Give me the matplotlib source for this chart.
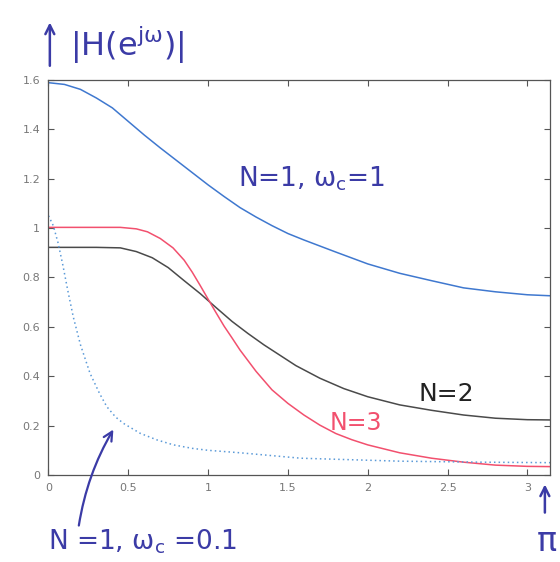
import matplotlib
matplotlib.use('Agg')
from matplotlib import pyplot as plt
from matplotlib.ticker import FuncFormatter

# |H(e^jw)|
w_blue = [0, 0.1, 0.2, 0.3, 0.4, 0.5, 0.6, 0.7, 0.8, 0.9, 1.0, 1.1, 1.2, 1.3, 1.4, 1.5, 1.6,
          1.8, 2.0, 2.2, 2.4, 2.6, 2.8, 3.0, 3.1416]
h_blue = [1.589, 1.582, 1.562, 1.527, 1.487, 1.432, 1.377, 1.325, 1.275, 1.225, 1.175, 1.128,
          1.083, 1.045, 1.01, 0.978, 0.952, 0.903, 0.855, 0.817, 0.787, 0.758, 0.742, 0.73, 0.726]

w_n2 = [0, 0.3, 0.45, 0.55, 0.65, 0.75, 0.85, 0.95, 1.05, 1.15, 1.25, 1.35, 1.45, 1.55, 1.7,
        1.85, 2.0, 2.2, 2.4, 2.6, 2.8, 3.0, 3.1416]
h_n2 = [0.922, 0.922, 0.92, 0.905, 0.88, 0.84, 0.787, 0.735, 0.678, 0.622, 0.573, 0.527, 0.485,
        0.443, 0.392, 0.35, 0.317, 0.284, 0.262, 0.243, 0.23, 0.224, 0.223]

w_n3 = [0, 0.45, 0.55, 0.62, 0.7, 0.78, 0.85, 0.9, 0.95, 1.0, 1.05, 1.1, 1.15, 1.2, 1.3, 1.4,
        1.5, 1.6, 1.7, 1.8, 1.9, 2.0, 2.2, 2.4, 2.6, 2.8, 3.0, 3.1416]
h_n3 = [1.003, 1.003, 0.997, 0.985, 0.958, 0.92, 0.87, 0.822, 0.768, 0.712, 0.657, 0.603, 0.555,
        0.506, 0.42, 0.345, 0.29, 0.243, 0.202, 0.168, 0.143, 0.122, 0.09, 0.068, 0.052, 0.04,
        0.035, 0.034]

w_dot = [0, 0.03, 0.06, 0.09, 0.12, 0.155, 0.2, 0.26, 0.32, 0.365, 0.42, 0.47, 0.574, 0.68,
         0.783, 0.9, 1.0, 1.2, 1.58, 2.2, 2.7, 3.1416]
h_dot = [1.05, 1.01, 0.94, 0.85, 0.75, 0.641, 0.528, 0.412, 0.33, 0.277, 0.235, 0.209, 0.169,
         0.142, 0.122, 0.108, 0.1, 0.09, 0.068, 0.056, 0.052, 0.05]

xticks = [0, 0.5, 1, 1.5, 2, 2.5, 3]
yticks = [0, 0.2, 0.4, 0.6, 0.8, 1, 1.2, 1.4, 1.6]

pen = '#3b3ba6'

fig = plt.figure(figsize=(5.6, 5.62), dpi=100)
ax = fig.add_axes([0.0866, 0.1548, 0.8955, 0.7029])

ax.plot(w_blue, h_blue, color='#3f78cf', lw=1.1)
ax.plot(w_n2, h_n2, color='#4a4a4a', lw=1.1)
ax.plot(w_n3, h_n3, color='#f2506e', lw=1.1)
ax.plot(w_dot, h_dot, color='#5b9ad8', lw=1.1, ls=(0, (1, 2)))

ax.set_xlim(0, 3.1416)
ax.set_ylim(0, 1.6)
ax.set_xticks(xticks)
ax.set_yticks(yticks)
fmt = FuncFormatter(lambda v, p: ('%g' % v))
ax.xaxis.set_major_formatter(fmt)
ax.yaxis.set_major_formatter(fmt)
ax.tick_params(direction='in', top=True, right=True, length=4, width=0.8,
               colors='#555555', labelsize=8, labelcolor='#777777', pad=6)
for s in ax.spines.values():
    s.set_color('#555555')
    s.set_linewidth(0.9)

# handwritten notes
ax.text(1.19, 1.2, r'N=1, $\mathregular{\omega_c}$=1', color=pen, fontsize=19, va='center')
ax.text(2.32, 0.33, 'N=2', color='#222222', fontsize=18, va='center')
ax.text(1.76, 0.21, 'N=3', color='#f2506e', fontsize=17, va='center')

fig.text(0.125, 0.92, r'$\mathregular{|H(e^{j\omega})|}$', color=pen, fontsize=23, va='center')
fig.text(0.086, 0.036, r'N =1, $\mathregular{\omega_c}$ =0.1', color=pen, fontsize=19, va='center')
fig.text(0.958, 0.036, 'π', color=pen, fontsize=24, va='center')

arrow = dict(arrowstyle='->', color=pen, lw=1.8, mutation_scale=16)
ax.annotate('', xy=(0.089, 0.965), xytext=(0.089, 0.878), xycoords='figure fraction',
            textcoords='figure fraction', arrowprops=arrow)
ax.annotate('', xy=(0.973, 0.143), xytext=(0.973, 0.083), xycoords='figure fraction',
            textcoords='figure fraction', arrowprops=arrow)
ax.annotate('', xy=(0.205, 0.24), xytext=(0.14, 0.06), xycoords='figure fraction',
            textcoords='figure fraction',
            arrowprops=dict(arrowstyle='->', color=pen, lw=1.6, mutation_scale=16,
                            connectionstyle='arc3,rad=-0.1'))

fig.savefig('out.png', dpi=100)
